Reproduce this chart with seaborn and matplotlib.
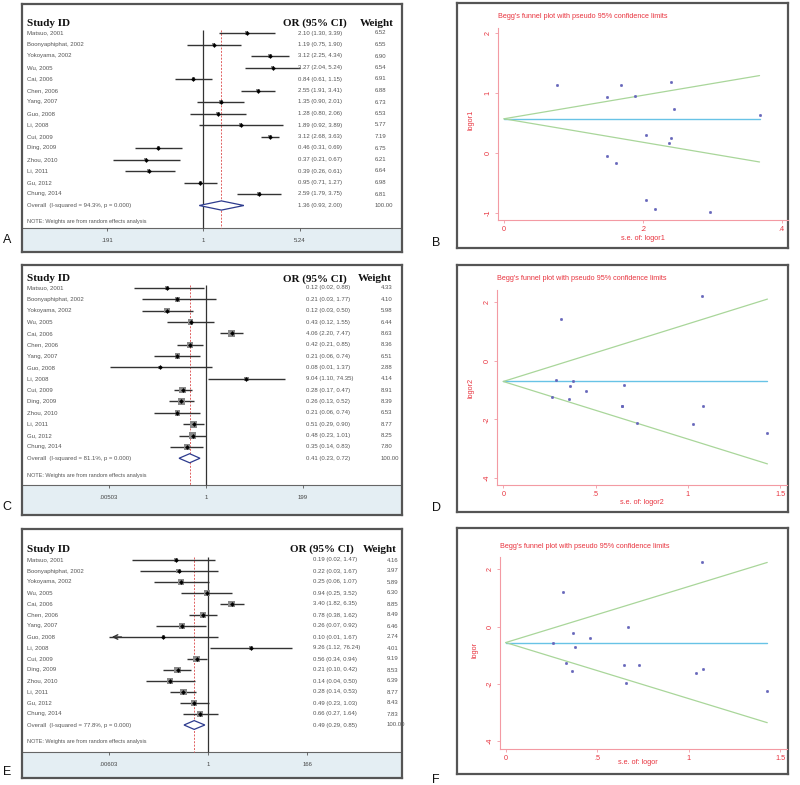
import numpy as np
import pandas as pd
import seaborn as sns
import matplotlib.pyplot as plt
import matplotlib.transforms as mtransforms

# ---- study data -------------------------------------------------------
studies = ["Matsuo, 2001", "Boonyaphiphat, 2002", "Yokoyama, 2002", "Wu, 2005",
           "Cai, 2006", "Chen, 2006", "Yang, 2007", "Guo, 2008", "Li, 2008",
           "Cui, 2009", "Ding, 2009", "Zhou, 2010", "Li, 2011", "Gu, 2012",
           "Chung, 2014"]

# panel A
or_a = [2.10, 1.19, 3.12, 3.27, 0.84, 2.55, 1.35, 1.28, 1.89, 3.12, 0.46, 0.37, 0.39, 0.95, 2.59]
lo_a = [1.30, 0.75, 2.25, 2.04, 0.61, 1.91, 0.90, 0.80, 0.92, 2.68, 0.31, 0.21, 0.26, 0.71, 1.79]
hi_a = [3.39, 1.90, 4.34, 5.24, 1.15, 3.41, 2.01, 2.06, 3.89, 3.63, 0.69, 0.67, 0.61, 1.27, 3.75]
w_a = [6.52, 6.55, 6.90, 6.54, 6.91, 6.88, 6.73, 6.53, 5.77, 7.19, 6.75, 6.21, 6.64, 6.98, 6.81]
pool_a = (1.36, 0.93, 2.00)
i2_a = 94.3
ticks_a = [0.191, 1, 5.24]
ticklab_a = [".191", "1", "5.24"]

# panel C
or_c = [0.12, 0.21, 0.12, 0.43, 4.06, 0.42, 0.21, 0.08, 9.04, 0.28, 0.26, 0.21, 0.51, 0.48, 0.35]
lo_c = [0.02, 0.03, 0.03, 0.12, 2.20, 0.21, 0.06, 0.0053, 1.10, 0.17, 0.13, 0.06, 0.29, 0.23, 0.14]
hi_c = [0.88, 1.77, 0.50, 1.55, 7.47, 0.85, 0.74, 1.37, 74.35, 0.47, 0.52, 0.74, 0.90, 1.01, 0.83]
w_c = [4.33, 4.10, 5.98, 6.44, 8.63, 8.36, 6.51, 2.88, 4.14, 8.91, 8.39, 6.53, 8.77, 8.25, 7.80]
pool_c = (0.41, 0.23, 0.72)
i2_c = 81.1
ticks_c = [0.00503, 1, 199]
ticklab_c = [".00503", "1", "199"]

# panel E
or_e = [0.19, 0.22, 0.25, 0.94, 3.40, 0.78, 0.26, 0.10, 9.26, 0.56, 0.21, 0.14, 0.28, 0.49, 0.66]
lo_e = [0.02, 0.03, 0.06, 0.25, 1.82, 0.38, 0.07, 0.005, 1.12, 0.34, 0.10, 0.04, 0.14, 0.23, 0.27]
hi_e = [1.47, 1.67, 1.07, 3.52, 6.35, 1.62, 0.92, 1.67, 76.24, 0.94, 0.42, 0.50, 0.53, 1.03, 1.64]
w_e = [4.16, 3.97, 5.89, 6.30, 8.85, 8.49, 6.46, 2.74, 4.01, 9.19, 8.53, 6.39, 8.77, 8.43, 7.83]
pool_e = (0.49, 0.29, 0.85)
i2_e = 77.8
ticks_e = [0.00603, 1, 166]
ticklab_e = [".00603", "1", "166"]

# funnel plots (s.e., log OR)
se_b = [0.245, 0.237, 0.168, 0.241, 0.162, 0.148, 0.205, 0.241, 0.368, 0.077, 0.204, 0.296, 0.218, 0.148, 0.189]
lor_b = [0.74, 0.17, 1.14, 1.18, -0.17, 0.94, 0.30, 0.25, 0.64, 1.14, -0.78, -0.99, -0.94, -0.05, 0.95]
fun_b = (0.57, 0.368, 1.29, -0.15)   # centre, max s.e., upper, lower

se_d = [1.03, 1.085, 0.727, 0.655, 0.313, 0.362, 0.642, 1.432, 1.076, 0.262, 0.358, 0.642, 0.286, 0.376, 0.448]
lor_d = [-2.15, -1.54, -2.11, -0.83, 1.42, -0.85, -1.54, -2.47, 2.21, -1.25, -1.31, -1.54, -0.66, -0.71, -1.03]
fun_d = (-0.71, 1.432, 2.10, -3.52)

se_f = [1.08, 1.038, 0.73, 0.67, 0.315, 0.37, 0.648, 1.426, 1.071, 0.26, 0.364, 0.658, 0.33, 0.379, 0.46]
lor_f = [-1.48, -1.63, -1.34, -0.03, 1.22, -0.23, -1.34, -2.27, 2.24, -0.56, -1.55, -1.98, -1.26, -0.72, -0.41]
fun_f = (-0.56, 1.43, 2.24, -3.36)

# ---- style ------------------------------------------------------------
sns.set_theme(style="white")
plt.rcParams["font.family"] = ["Liberation Sans", "DejaVu Sans"]

W, H = 800, 785
fig = plt.figure(figsize=(8, 7.85), dpi=100)
fig.patch.set_facecolor("white")


def frac(x0, y0, x1, y1):
    return [x0 / W, 1 - y1 / H, (x1 - x0) / W, (y1 - y0) / H]


FRAME = "#555555"
RED = "#e8343f"
PINK = "#f39aa3"


def forest(box, lay, orr, lo, hi, w, pool, i2, ticks, ticklab, k_box):
    x0, y0, x1, y1 = box
    ax = fig.add_axes(frac(*box))
    ax.set_xscale("log")
    # map tick values onto their pixel positions
    L, R = np.log(ticks[0]), np.log(ticks[-1])
    fL = (lay["tick_px"][0] - x0) / (x1 - x0)
    fR = (lay["tick_px"][-1] - x0) / (x1 - x0)
    span = (R - L) / (fR - fL)
    xmin = L - fL * span
    ax.set_xlim(np.exp(xmin), np.exp(xmin + span))
    r0, sp = lay["row0"], lay["sp"]
    row = lambda px: (px - r0) / sp
    ax.set_ylim(row(y1), row(y0))
    ax.set_xticks([])
    ax.set_yticks([])
    ax.minorticks_off()
    for s in ax.spines.values():
        s.set_color(FRAME)
        s.set_linewidth(1.6)
    trans = mtransforms.blended_transform_factory(ax.transAxes, ax.transData)
    fx = lambda px: (px - x0) / (x1 - x0)

    strip = row(lay["strip"])
    ax.axhspan(strip, row(y1), color="#e4eef3", lw=0)
    ax.axhline(strip, color="#666666", lw=0.8)
    top = row(lay["line_top"])
    ax.vlines(1, top, strip, color="#333333", lw=0.9)
    ax.vlines(pool[0], top, strip, color="#e06060", lw=0.7, linestyles=(0, (2, 1.5)))

    rows = np.arange(len(orr))
    df = pd.DataFrame({"or": orr, "lo": lo, "hi": hi, "w": w, "row": rows})
    tmin = ticks[0]
    for _, r in df.iterrows():
        left = max(r["lo"], tmin)
        ax.hlines(r["row"], left, r["hi"], color="#333333", lw=1.0)
        if r["lo"] < tmin:
            ax.annotate("", xy=(tmin, r["row"]), xytext=(tmin * 2.2, r["row"]),
                        arrowprops=dict(arrowstyle="->", color="#333333", lw=1.0,
                                        mutation_scale=8))
    ax.scatter(df["or"], df["row"], s=df["w"] * k_box, marker="s",
               color="#8a8a8a", lw=0, zorder=3)
    sns.scatterplot(data=df, x="or", y="row", marker="D", s=5, color="black",
                    edgecolor=None, ax=ax, zorder=4, legend=False)
    ax.set_xlabel("")
    ax.set_ylabel("")

    n = len(orr)
    h = 0.4
    ax.fill([pool[1], pool[0], pool[2], pool[0]], [n, n - h, n, n + h],
            facecolor="white", edgecolor="#2d3b8e", lw=0.9, zorder=3)

    # tick marks in the strip
    for t, tl in zip(ticks, ticklab):
        ax.vlines(t, strip, strip + 0.25, color="#555555", lw=0.6)
        ax.text(t, strip + 1.1, tl, transform=ax.transData, ha="center",
                va="center", fontsize=4.3, color="#444444")

    fs = 4.3
    txtc = "#555555"
    for i, name in enumerate(studies):
        ax.text(fx(27), i, name, transform=trans, fontsize=fs, color=txtc, va="center")
        ax.text(fx(lay["orx"]), i, f"{orr[i]:.2f} ({lo[i]:.2f}, {hi[i]:.2f})",
                transform=trans, fontsize=fs, color=txtc, va="center")
        ax.text(fx(lay["wx"]), i, f"{w[i]:.2f}", transform=trans, fontsize=fs,
                color=txtc, va="center")
    ax.text(fx(27), n, f"Overall  (I-squared = {i2:.1f}%, p = 0.000)", transform=trans,
            fontsize=fs, color=txtc, va="center")
    ax.text(fx(lay["orx"]), n, f"{pool[0]:.2f} ({pool[1]:.2f}, {pool[2]:.2f})",
            transform=trans, fontsize=fs, color=txtc, va="center")
    ax.text(fx(lay["wx"]), n, "100.00", transform=trans, fontsize=fs, color=txtc,
            va="center")
    ax.text(fx(27), row(lay["note"]), "NOTE: Weights are from random effects analysis",
            transform=trans, fontsize=4.0, color=txtc, va="center")

    hy = row(lay["head"])
    hf = dict(transform=trans, fontsize=8, fontweight="bold", va="center",
              family=["Liberation Serif", "DejaVu Serif"], color="#111111")
    ax.text(fx(27), hy, "Study ID", **hf)
    ax.text(fx(lay["orh"]), hy, "OR (95% CI)", **hf)
    ax.text(fx(lay["wh"]), hy, "Weight", **hf)


def funnel(box, arect, xlim, ylim, xt, xtl, yt, se, lor, fun, tpos, xlab, ylab):
    bx = fig.add_axes(frac(*box))
    bx.set_xticks([])
    bx.set_yticks([])
    for s in bx.spines.values():
        s.set_color(FRAME)
        s.set_linewidth(1.6)
    ax = fig.add_axes(frac(*arect))
    ax.patch.set_alpha(0)
    ax.set_xlim(*xlim)
    ax.set_ylim(*ylim)
    c, smax, up, low = fun
    ax.plot([0, smax], [c, c], color="#68c3e6", lw=1.0)
    ax.plot([0, smax], [c, up], color="#a9d69a", lw=0.9)
    ax.plot([0, smax], [c, low], color="#a9d69a", lw=0.9)
    sns.scatterplot(x=se, y=lor, s=4, color="#6666bb", edgecolor=None, ax=ax,
                    legend=False, zorder=3)
    ax.set_xticks(xt)
    ax.set_xticklabels(xtl)
    ax.set_yticks(yt)
    ax.set_yticklabels([f"{v:g}" for v in yt], rotation=90, va="center")
    ax.tick_params(axis="both", length=2.5, width=0.6, color=PINK, labelsize=5.2,
                   labelcolor=RED, pad=2, direction="out")
    ax.tick_params(axis="x", bottom=True)
    ax.tick_params(axis="y", left=True)
    for side in ["top", "right"]:
        ax.spines[side].set_visible(False)
    for side in ["left", "bottom"]:
        ax.spines[side].set_color(PINK)
        ax.spines[side].set_linewidth(0.8)
    ax.set_xlabel("")
    ax.set_ylabel("")
    fig.text(tpos[0] / W, 1 - tpos[1] / H,
             "Begg's funnel plot with pseudo 95% confidence limits",
             fontsize=5.2, color=RED, ha="left", va="center")
    fig.text(xlab[0] / W, 1 - xlab[1] / H, xlab[2], fontsize=5.2, color=RED,
             ha="center", va="center")
    fig.text(ylab[0] / W, 1 - ylab[1] / H, ylab[2], fontsize=5.2, color=RED,
             ha="center", va="center", rotation=90)


lay_a = dict(tick_px=[107, 204, 300], row0=33, sp=11.5, strip=228, line_top=30,
             note=222, head=23, orx=298, wx=375, orh=283, wh=360)
lay_c = dict(tick_px=[109, 207, 303], row0=288, sp=11.35, strip=485, line_top=285,
             note=476, head=279, orx=306, wx=381, orh=283, wh=358)
lay_e = dict(tick_px=[109, 208, 307], row0=560, sp=11.0, strip=752, line_top=557,
             note=742, head=549, orx=313, wx=387, orh=290, wh=363)

forest((22, 4, 402, 252), lay_a, or_a, lo_a, hi_a, w_a, pool_a, i2_a, ticks_a, ticklab_a, 0.9)
forest((22, 265, 402, 515), lay_c, or_c, lo_c, hi_c, w_c, pool_c, i2_c, ticks_c, ticklab_c, 2.6)
forest((22, 529, 402, 778), lay_e, or_e, lo_e, hi_e, w_e, pool_e, i2_e, ticks_e, ticklab_e, 2.6)

funnel((457, 3, 788, 248), (498, 28, 788, 220), (-0.0086, 0.409), (-1.117, 2.083),
       [0, 0.2, 0.4], ["0", ".2", ".4"], [-1, 0, 1, 2], se_b, lor_b, fun_b,
       (498, 17), (643, 238, "s.e. of: logor1"), (471, 120, "logor1"))
funnel((457, 265, 788, 512), (497, 290, 787, 485), (-0.034, 1.538), (-4.24, 2.41),
       [0, 0.5, 1, 1.5], ["0", ".5", "1", "1.5"], [-4, -2, 0, 2], se_d, lor_d, fun_d,
       (497, 279), (642, 503, "s.e. of: logor2"), (471, 388, "logor2"))
funnel((457, 528, 788, 774), (500, 557, 787, 749), (-0.031, 1.538), (-4.28, 2.43),
       [0, 0.5, 1, 1.5], ["0", ".5", "1", "1.5"], [-4, -2, 0, 2], se_f, lor_f, fun_f,
       (500, 547), (638, 763, "s.e. of: logor"), (475, 650, "logor"))

for lab, x, y in [("A", 7, 240), ("B", 436, 243), ("C", 7, 507),
                  ("D", 436, 508), ("E", 7, 772), ("F", 436, 780)]:
    fig.text(x / W, 1 - y / H, lab, fontsize=9, ha="center", va="center", color="#111111")

fig.savefig("out.png", dpi=100)
plt.close(fig)
